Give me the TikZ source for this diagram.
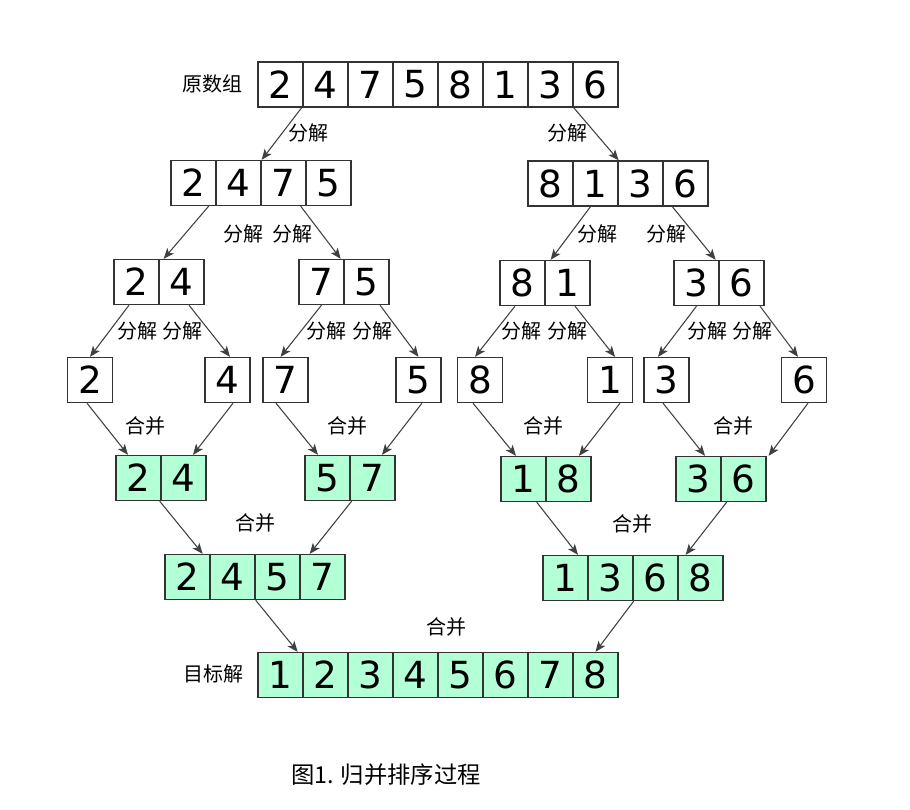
\documentclass[tikz,border=0pt]{standalone}
\usepackage{fontspec}
\setmainfont{DejaVu Sans}
\newfontfamily\cjk{Noto Sans CJK SC}
\usepackage{xcolor}
\usetikzlibrary{arrows.meta,calc}

\definecolor{mint}{RGB}{179,255,214}

\begin{document}
\begin{tikzpicture}[x=0.75pt,y=0.75pt,yscale=-1,xscale=1,
  cell/.style={draw=black!80,line width=1pt,minimum width=33.75pt,minimum height=33.75pt,inner sep=0pt,font=\fontsize{28}{28}\selectfont},
  sorted/.style={cell,fill=mint},
  lbl/.style={font=\cjk\fontsize{15}{15}\selectfont,inner sep=0pt},
  arr/.style={draw=black!75,line width=0.8pt,-{Stealth[length=8pt,width=6.5pt,inset=2pt]}}]
%set diagram size: 910 x 810
\useasboundingbox (0,0) rectangle (910,810);

%Original array
\foreach \v [count=\i] in {2,4,7,5,8,1,3,6}
  \node[cell] (t\i) at (235.5+45*\i,84.5) {\v};
%Split: halves
\foreach \v [count=\i] in {2,4,7,5}
  \node[cell] (l\i) at (148.5+45*\i,183) {\v};
\foreach \v [count=\i] in {8,1,3,6}
  \node[cell] (r\i) at (505.5+45*\i,183.5) {\v};
%Split: pairs
\foreach \v [count=\i] in {2,4}
  \node[cell] (a\i) at (91.5+45*\i,282) {\v};
\foreach \v [count=\i] in {7,5}
  \node[cell] (b\i) at (276.5+45*\i,282) {\v};
\foreach \v [count=\i] in {8,1}
  \node[cell] (c\i) at (477.5+45*\i,283) {\v};
\foreach \v [count=\i] in {3,6}
  \node[cell] (d\i) at (651.5+45*\i,283) {\v};
%Single elements
\foreach \v/\px [count=\i] in {2/90,4/227.5,7/285.5,5/418.5,8/480,1/610,3/666.5,6/804}
  \node[cell] (s\i) at (\px,380) {\v};
%Merge: pairs
\foreach \v [count=\i] in {2,4}
  \node[sorted] (pa\i) at (93.5+45*\i,478) {\v};
\foreach \v [count=\i] in {5,7}
  \node[sorted] (pb\i) at (282.5+45*\i,478) {\v};
\foreach \v [count=\i] in {1,8}
  \node[sorted] (pc\i) at (478.5+45*\i,479) {\v};
\foreach \v [count=\i] in {3,6}
  \node[sorted] (pd\i) at (653.5+45*\i,479) {\v};
%Merge: halves
\foreach \v [count=\i] in {2,4,5,7}
  \node[sorted] (ha\i) at (142.5+45*\i,577) {\v};
\foreach \v [count=\i] in {1,3,6,8}
  \node[sorted] (hb\i) at (520.5+45*\i,578) {\v};
%Result
\foreach \v [count=\i] in {1,2,3,4,5,6,7,8}
  \node[sorted] (f\i) at (235.5+45*\i,675) {\v};

% Text Node
\node[lbl] (orig) at (212,84) {原数组};
\node[lbl] (goal) at (213,674) {目标解};
\node[lbl] (sp1) at (308,133) {分解};
\node[lbl] (sp2) at (567,133) {分解};
\node[lbl] (sp3) at (243,234) {分解};
\node[lbl] (sp4) at (292,234) {分解};
\node[lbl] (sp5) at (597,234) {分解};
\node[lbl] (sp6) at (666,234) {分解};
\node[lbl] (sp7) at (137,331) {分解};
\node[lbl] (sp8) at (182,331) {分解};
\node[lbl] (sp9) at (326,331) {分解};
\node[lbl] (sp10) at (372,331) {分解};
\node[lbl] (sp11) at (521,331) {分解};
\node[lbl] (sp12) at (567,331) {分解};
\node[lbl] (sp13) at (707,331) {分解};
\node[lbl] (sp14) at (752,331) {分解};
\node[lbl] (mg1) at (145,426) {合并};
\node[lbl] (mg2) at (347,426) {合并};
\node[lbl] (mg3) at (543,426) {合并};
\node[lbl] (mg4) at (733,426) {合并};
\node[lbl] (mg5) at (255,523) {合并};
\node[lbl] (mg6) at (632,524) {合并};
\node[lbl] (mg7) at (446,627) {合并};
\node[lbl,font=\cjk\fontsize{17.5}{17.5}\selectfont] (cap) at (386,775) {图1. 归并排序过程};

%Split arrows
\draw[arr] ($(t1.south east)+(-2,0)$) -- (l2.north east);
\draw[arr] (t7.south east) -- (r2.north east);
\draw[arr] ($(l1.south east)+(-8,0)$) -- ($(a1.north east)+(4,0)$);
\draw[arr] ($(l3.south east)+(-6,0)$) -- ($(b1.north east)+(-4,0)$);
\draw[arr] ($(r2.south)+(-5,0)$) -- ($(c1.north east)+(5,0)$);
\draw[arr] ($(r4.south west)+(10,0)$) -- ($(d1.north east)+(-4,0)$);
\draw[arr] ($(a1.south)+(-7.5,0)$) -- (s1.north);
\draw[arr] ($(a2.south)+(7.5,0)$) -- ($(s2.north)+(2.5,0)$);
\draw[arr] (b1.south) -- ($(s3.north)+(-5,0)$);
\draw[arr] ($(b2.south)+(13.5,0)$) -- (s4.north);
\draw[arr] ($(c1.south)+(-7.5,0)$) -- ($(s5.north)+(-5,0)$);
\draw[arr] ($(c2.south)+(7.5,0)$) -- ($(s6.north)+(5,0)$);
\draw[arr] (d1.south) -- ($(s7.north)+(-8.5,0)$);
\draw[arr] ($(d2.south)+(18.5,0)$) -- ($(s8.north)+(-6,0)$);
%Merge arrows
\draw[arr] ($(s1.south)+(-3,0)$) -- ($(pa1.north)+(-10.5,0)$);
\draw[arr] ($(s2.south)+(5.5,0)$) -- ($(pa2.north)+(9.5,0)$);
\draw[arr] ($(s3.south)+(-9.5,0)$) -- ($(pb1.north)+(-9.5,0)$);
\draw[arr] ($(s4.south)+(3.5,0)$) -- ($(pb2.north)+(9.5,0)$);
\draw[arr] ($(s5.south)+(-7,0)$) -- ($(pc1.north)+(-7.5,0)$);
\draw[arr] ($(s6.south)+(10,0)$) -- ($(pc2.north)+(10.5,0)$);
\draw[arr] ($(s7.south)+(-3.5,0)$) -- ($(pd1.north)+(6.5,0)$);
\draw[arr] ($(s8.south)+(4,0)$) -- ($(pd2.north east)+(2,0)$);
\draw[arr] ($(pa1.south east)+(-2,0)$) -- ($(ha1.north east)+(-8,0)$);
\draw[arr] ($(pb1.south east)+(1,0)$) -- ($(ha3.north east)+(9,0)$);
\draw[arr] ($(pc1.south east)+(-10,0)$) -- ($(hb1.north)+(12.5,0)$);
\draw[arr] ($(pd1.south east)+(5,0)$) -- ($(hb3.north east)+(7,0)$);
\draw[arr] (ha2.south east) -- ($(f1.north east)+(-6,0)$);
\draw[arr] (hb2.south east) -- (f8.north);

\end{tikzpicture}
\end{document}
